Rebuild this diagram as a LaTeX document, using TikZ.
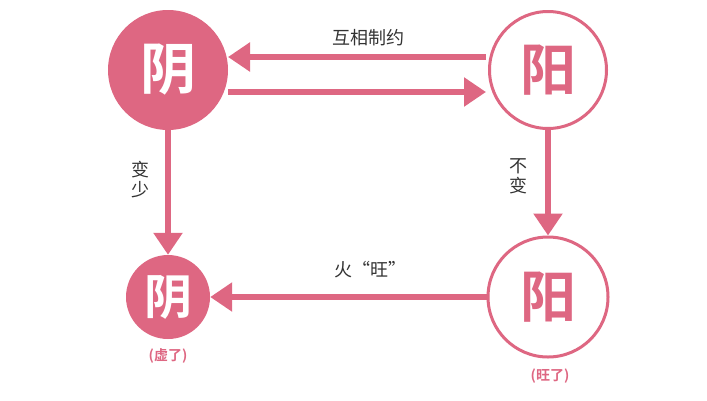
\documentclass[tikz,border=0pt]{standalone}
\usepackage{fontspec}
\newfontfamily\cjk{Noto Sans CJK SC}
\newfontfamily\cjkb{Noto Sans CJK SC Bold}
\usetikzlibrary{arrows.meta}
\definecolor{pk}{HTML}{DE6782}
\tikzset{
 filled/.style={circle,fill=pk,minimum size=#1,inner sep=0pt,text=white,font=\cjkb\fontsize{56}{56}\selectfont},
 hollow/.style={circle,draw=pk,line width=3pt,fill=white,minimum size=#1,inner sep=0pt,text=pk,font=\cjkb\fontsize{56}{56}\selectfont},
 arr/.style={draw=pk,line width=6pt,-{Triangle[length=22pt,width=28pt]}},
 lbl/.style={font=\cjk\fontsize{18}{18}\selectfont,text=black!80},
 sub/.style={font=\cjkb\fontsize{14}{14}\selectfont,text=pk}
}
\begin{document}
\begin{tikzpicture}[x=1pt,y=-1pt]
\useasboundingbox (0,0) rectangle (707,400);
\node[filled=120pt] (a) at (168,70) {阴};
\node[hollow=117pt] (b) at (548,70) {阳};
\node[filled=84pt,font=\cjkb\fontsize{48}{48}\selectfont] (c) at (168,297) {阴};
\node[hollow=120pt] (d) at (548,297) {阳};
\coordinate (a1) at (228,57); \coordinate (b1) at (486,57);
\coordinate (a2) at (228,92); \coordinate (b2) at (486,92);
\draw[arr] (b1) -- (a1);
\draw[arr] (a2) -- (b2);
\draw[arr] (a.south) -- (c.north);
\draw[arr] (b.south) -- (d.north);
\draw[arr] (d.west) -- (c.east);
\node[lbl] (t1) at (368,38) {互相制约};
\node[lbl,align=center] (t2) at (140,180) {变\\[2pt]少};
\node[lbl,align=center] (t3) at (518,176) {不\\[2pt]变};
\node[lbl] (t4) at (370,270) {火“旺”};
\node[sub] (s1) at (168,356) {(虚了)};
\node[sub] (s2) at (550,376) {(旺了)};
\end{tikzpicture}
\end{document}
